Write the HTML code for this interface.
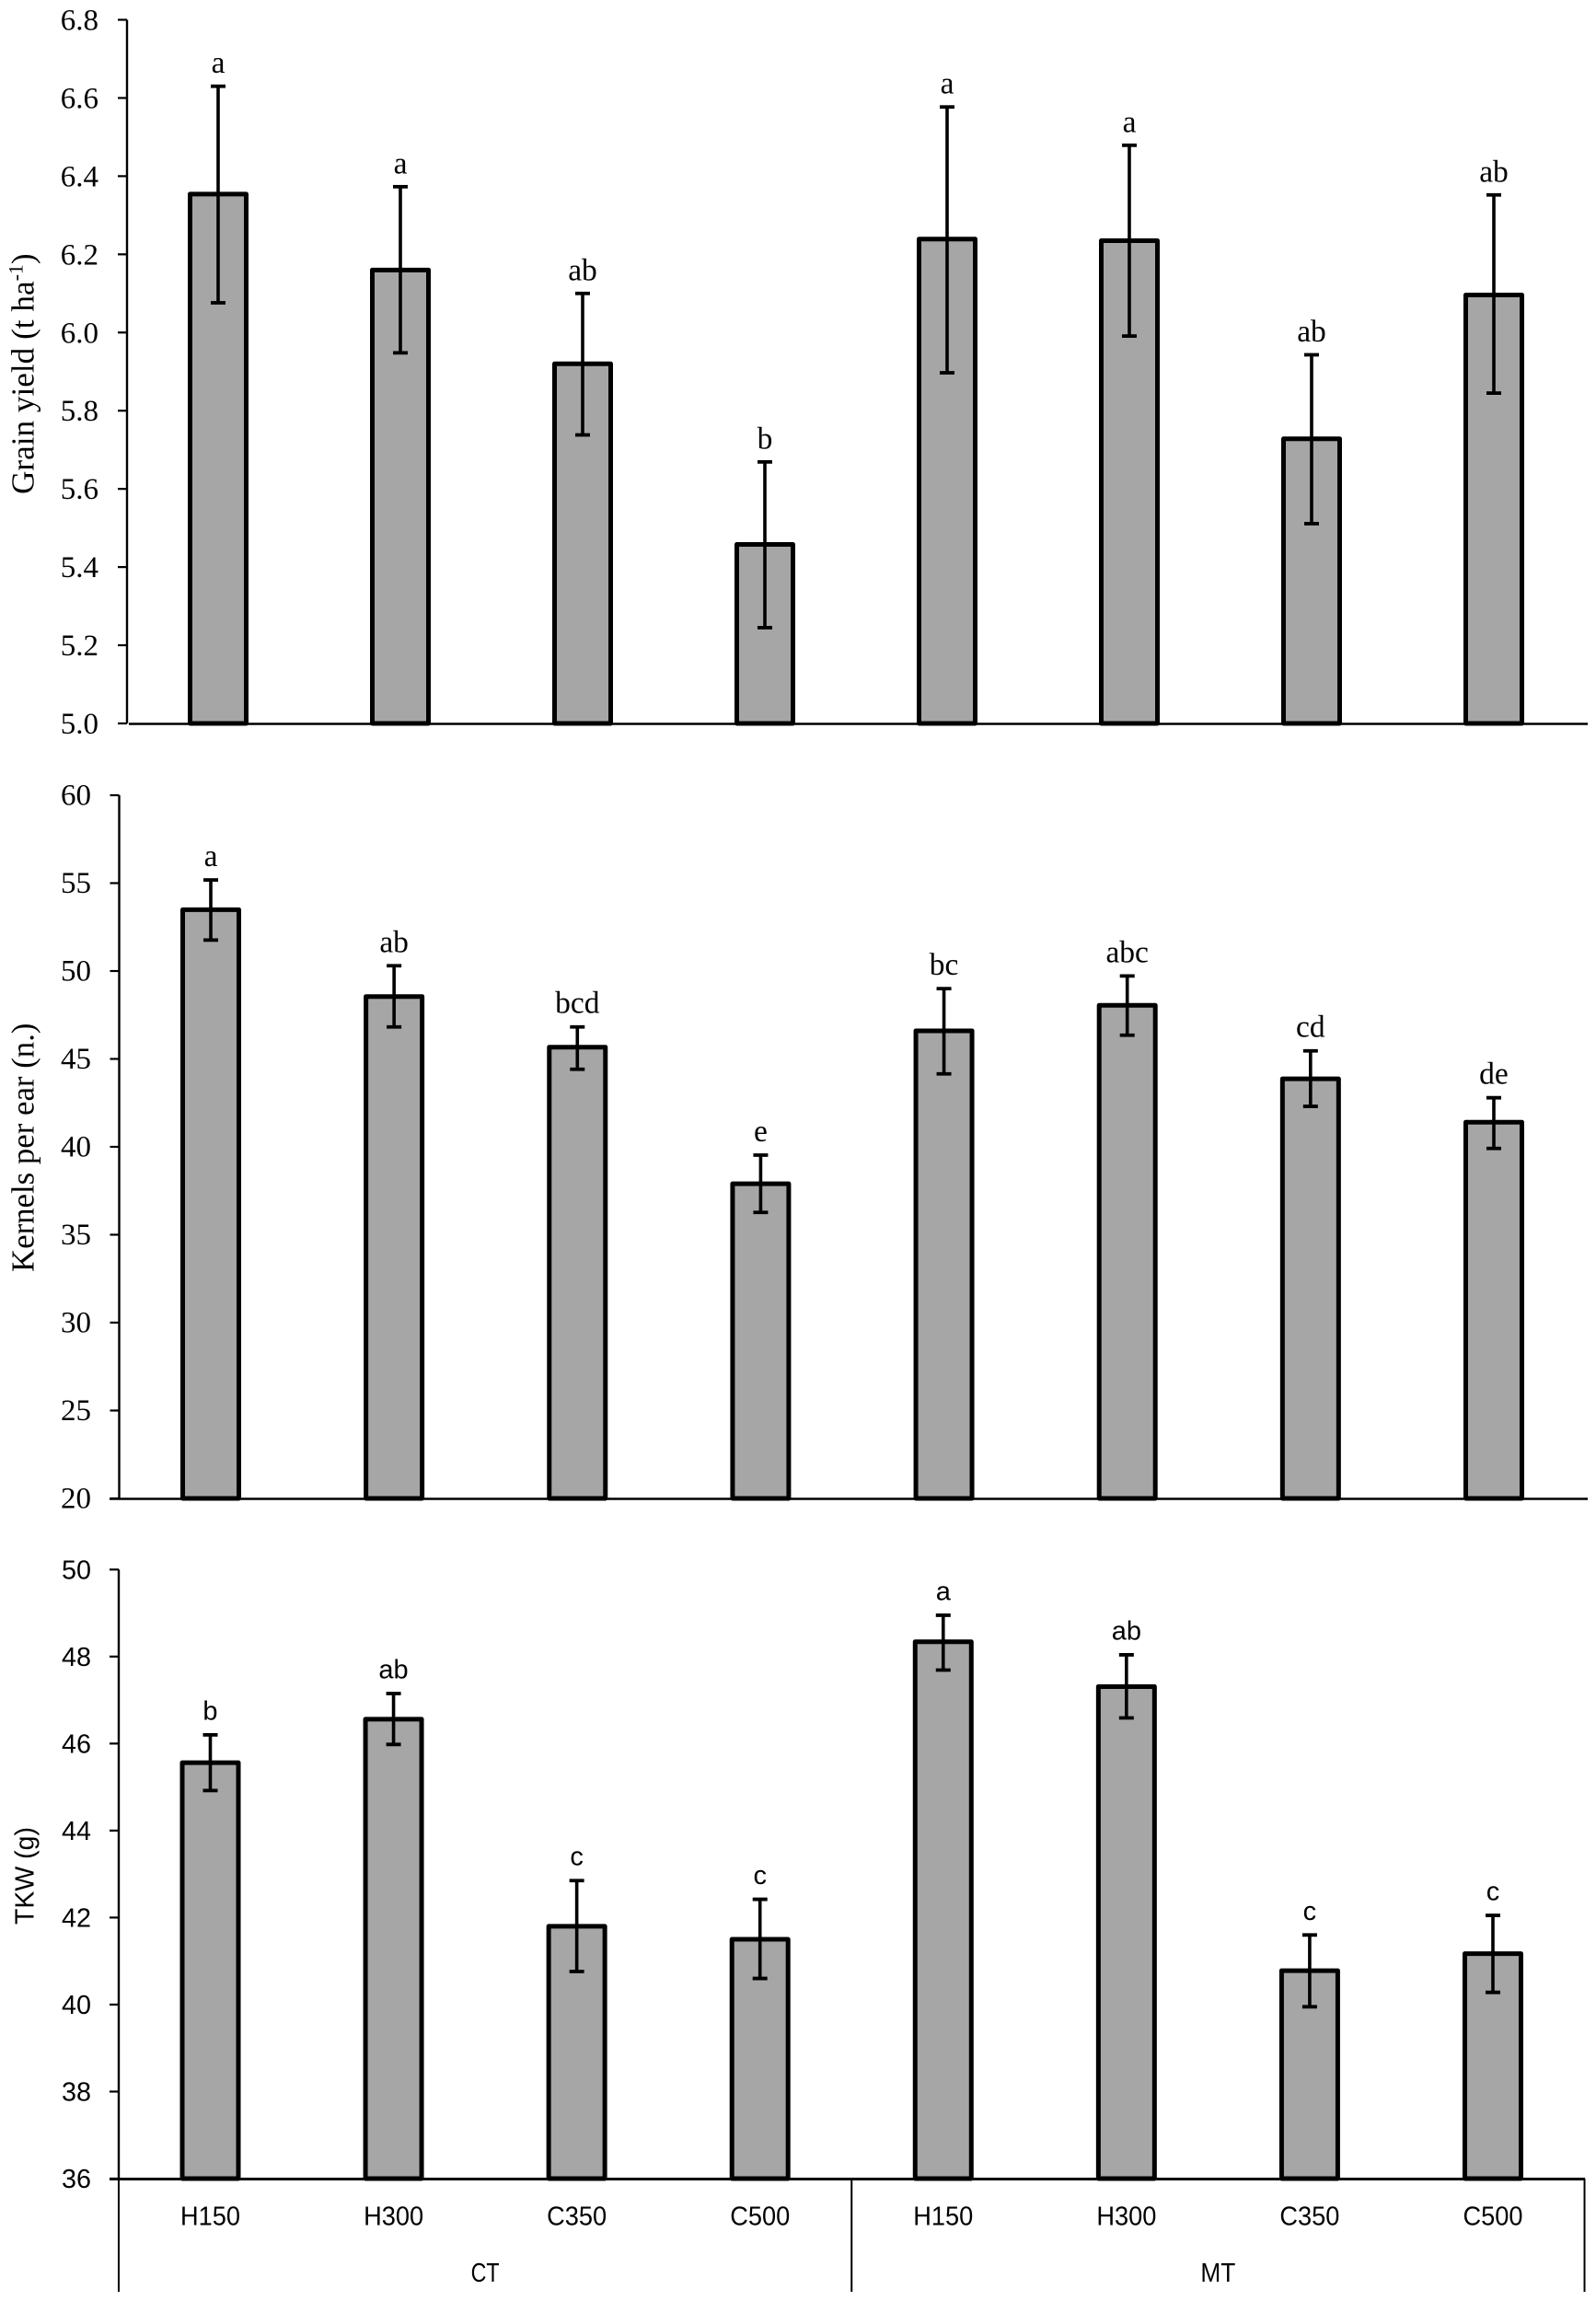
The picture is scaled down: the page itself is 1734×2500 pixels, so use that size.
<!DOCTYPE html>
<html lang="en">
<head>
<meta charset="utf-8">
<title>Grain yield, kernels per ear and TKW by treatment</title>
<style>
html,body{margin:0;padding:0;background:#fff;}
svg{display:block;}
text{fill:#000;}
.serif{font-family:"Liberation Serif",serif;}
.sans{font-family:"Liberation Sans",sans-serif;}
</style>
</head>
<body>
<svg id="chart" xmlns="http://www.w3.org/2000/svg" width="1734" height="2500" viewBox="0 0 1734 2500">
  <rect x="0" y="0" width="1734" height="2500" fill="#fff"/>
  <text class="serif" transform="translate(36.5,537) rotate(-90)" font-size="35.2">Grain yield (t ha<tspan dy="-12" font-size="22">-1</tspan><tspan dy="12">)</tspan></text>
  <text class="serif" transform="translate(36.5,1382) rotate(-90)" font-size="34.8">Kernels per ear (n.)</text>
  <text class="sans" transform="translate(36.5,2091) rotate(-90)" font-size="29" textLength="106" lengthAdjust="spacingAndGlyphs">TKW (g)</text>
</svg>
<script>
const categories = ["H150","H300","C350","C500","H150","H300","C350","C500"];
const groups = ["CT","MT"];

const yieldTicks = ["5.0","5.2","5.4","5.6","5.8","6.0","6.2","6.4","6.6","6.8"];
const yieldValues = [6.354,6.16,5.92,5.458,6.239,6.235,5.728,6.096];
const yieldErrHigh = [6.63,6.373,6.10,5.669,6.577,6.479,5.943,6.352];
const yieldErrLow = [6.076,5.948,5.738,5.245,5.897,5.991,5.511,5.845];
const yieldLetters = ["a","a","ab","b","a","a","ab","ab"];

const kernelTicks = ["20","25","30","35","40","45","50","55","60"];
const kernelValues = [53.49,48.55,45.67,37.9,46.6,48.05,43.87,41.4];
const kernelErrHigh = [55.18,50.3,46.82,39.53,49.0,49.72,45.46,42.79];
const kernelErrLow = [51.76,46.82,44.41,36.27,44.15,46.35,42.3,39.91];
const kernelLetters = ["a","ab","bcd","e","bc","abc","cd","de"];

const tkwTicks = ["36","38","40","42","44","46","48","50"];
const tkwValues = [45.56,46.56,41.8,41.5,48.34,47.31,40.78,41.17];
const tkwErrHigh = [46.2,47.15,42.85,42.42,48.95,48.04,41.6,42.05];
const tkwErrLow = [44.92,45.98,40.76,40.6,47.69,46.59,39.95,40.28];
const tkwLetters = ["b","ab","c","c","a","ab","c","c"];

const svg = document.getElementById('chart');
const NS = 'http://www.w3.org/2000/svg';

function mk(tag, attrs, text) {
  const el = document.createElementNS(NS, tag);
  for (const k in attrs) el.setAttribute(k, attrs[k]);
  if (text !== undefined) el.textContent = text;
  svg.appendChild(el);
  return el;
}

function drawPanel(p) {
  const lo = parseFloat(p.ticks[0]);
  const hi = parseFloat(p.ticks[p.ticks.length - 1]);
  const yScale = v => p.yBottom + (v - lo) * (p.yTop - p.yBottom) / (hi - lo);
  const xScale = i => p.x0 + i * p.step;

  const yAxis = mk('line', {x1:p.axisX, x2:p.axisX, y1:p.yTop, y2:p.yBottom, stroke:'#000', 'stroke-width':2.4});
  
  

  const xAxis = mk('line', {x1:p.xAxisStart, x2:p.xAxisEnd, y1:p.yBottom + 0.5, y2:p.yBottom + 0.5, stroke:'#000', 'stroke-width':p.xAxisWidth});
  
  

  p.ticks.forEach(t => {
    const y = yScale(parseFloat(t));
    const tick = mk('line', {x1:p.axisX - 10, x2:p.axisX, y1:y, y2:y, stroke:'#000', 'stroke-width':2.2});
    
    
    const tickAttrs = {x:p.tickLabelX, y:y + p.tickBaseline, 'text-anchor':'end', 'font-size':p.fontSize, class:p.fontClass};
    if (p.tickTextLength) {
      tickAttrs.textLength = p.tickTextLength;
      tickAttrs.lengthAdjust = 'spacingAndGlyphs';
    }
    const label = mk('text', tickAttrs, t);
    
    
  });

  p.values.forEach((v, i) => {
    const cx = xScale(i);
    const top = yScale(v);
    const bar = mk('rect', {x:cx - 30.5, y:top, width:61, height:p.yBottom - top, fill:'#a6a6a6', stroke:'#000', 'stroke-width':5, 'stroke-linejoin':'round'});
    
    

    const eHigh = yScale(p.errHigh[i]);
    const eLow = yScale(p.errLow[i]);
    const stem = mk('line', {x1:cx, x2:cx, y1:eHigh, y2:eLow, stroke:'#000', 'stroke-width':3.6});
    
    
    const capTop = mk('line', {x1:cx - 8, x2:cx + 8, y1:eHigh, y2:eHigh, stroke:'#000', 'stroke-width':3.8});
    
    
    const capBottom = mk('line', {x1:cx - 8, x2:cx + 8, y1:eLow, y2:eLow, stroke:'#000', 'stroke-width':3.8});
    
    

    const letter = mk('text', {x:cx, y:eHigh - p.letterGap, 'text-anchor':'middle', 'font-size':p.letterSize, class:p.fontClass}, p.letters[i]);
    
    
  });

  return xScale;
}

drawPanel({name:'grain-yield', ticks:yieldTicks, values:yieldValues, errHigh:yieldErrHigh, errLow:yieldErrLow, letters:yieldLetters,
  yTop:21.5, yBottom:786, axisX:138, x0:237, step:198, xAxisStart:140, xAxisEnd:1725, xAxisWidth:2.4,
  tickLabelX:107, tickBaseline:11, fontSize:33, letterSize:33.5, letterGap:14.5, fontClass:'serif'});

drawPanel({name:'kernels', ticks:kernelTicks, values:kernelValues, errHigh:kernelErrHigh, errLow:kernelErrLow, letters:kernelLetters,
  yTop:864, yBottom:1628, axisX:129.5, x0:229, step:199.14, xAxisStart:119, xAxisEnd:1725, xAxisWidth:2.4,
  tickLabelX:99, tickBaseline:10.5, fontSize:33, letterSize:33.5, letterGap:15, fontClass:'serif'});

const tkwX = drawPanel({name:'tkw', ticks:tkwTicks, values:tkwValues, errHigh:tkwErrHigh, errLow:tkwErrLow, letters:tkwLetters,
  yTop:1705.3, yBottom:2367, axisX:129, x0:228.5, step:199.07, xAxisStart:119, xAxisEnd:1722, xAxisWidth:3,
  tickLabelX:99, tickBaseline:10, fontSize:29, tickTextLength:32, letterSize:29, letterGap:16.5, fontClass:'sans'});

categories.forEach((c, i) => {
  const label = mk('text', {x:tkwX(i), y:2417.5, 'text-anchor':'middle', 'font-size':29, class:'sans', textLength:65, lengthAdjust:'spacingAndGlyphs'}, c);
  
  
});

const perGroup = categories.length / groups.length;
const halfStep = (tkwX(1) - tkwX(0)) / 2;

groups.forEach((g, gi) => {
  const first = gi * perGroup;
  const last = first + perGroup - 1;
  const label = mk('text', {x:(tkwX(first) + tkwX(last)) / 2, y:2479, 'text-anchor':'middle', 'font-size':29, class:'sans', textLength:g === 'CT' ? 31 : 38, lengthAdjust:'spacingAndGlyphs'}, g);
  
  
  const left = tkwX(first) - halfStep;
  const divider = mk('line', {x1:left, x2:left, y1:2367, y2:2490, stroke:'#000', 'stroke-width':2});
  
  
});

const endX = tkwX(categories.length - 1) + halfStep;
const endDivider = mk('line', {x1:endX, x2:endX, y1:2367, y2:2490, stroke:'#000', 'stroke-width':2});


</script>
</body>
</html>
